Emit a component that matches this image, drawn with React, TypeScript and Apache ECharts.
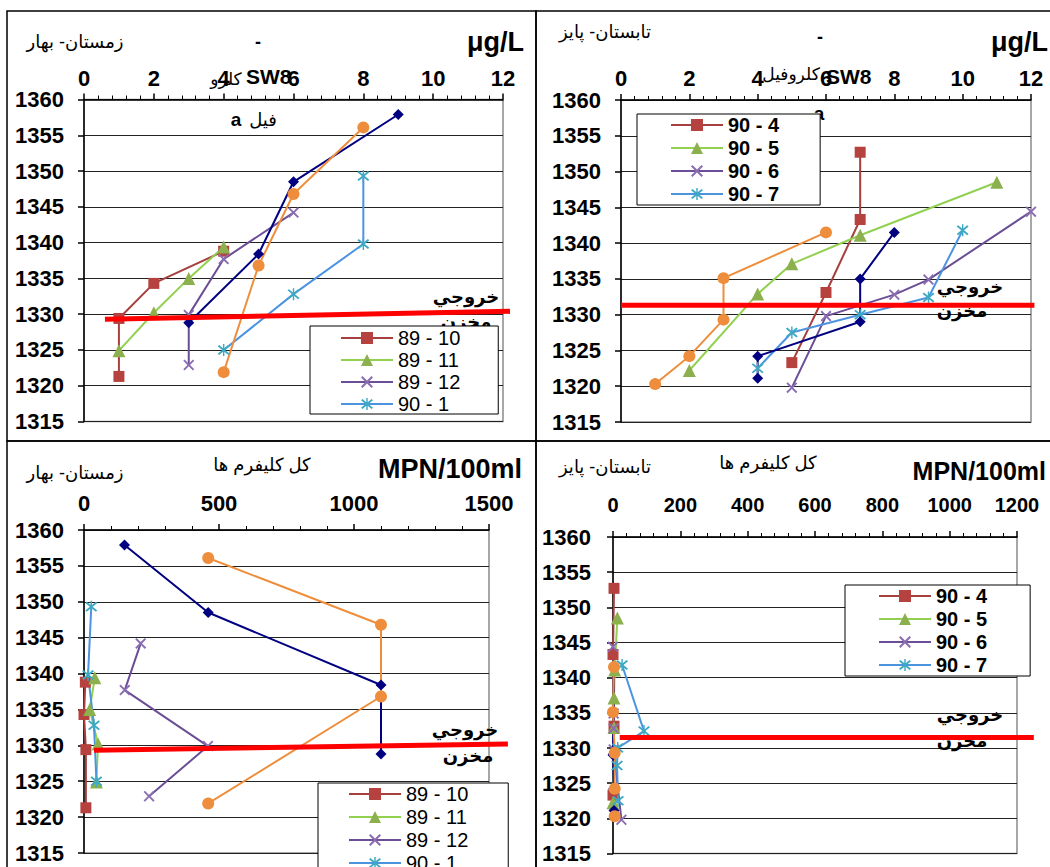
import React, { useEffect, useRef } from "react";
import * as echarts from "echarts";

// ---------- DATA ----------
// Winter–Spring (زمستان- بهار) sampling sets: elevations (m) and values
const namesWS = ["89 - 10", "89 - 11", "89 - 12", "90 - 1", "90 - 2", "90 - 3"];
const elevWS_89_10 = [1321.3, 1329.4, 1334.3, 1338.8];
const elevWS_89_11 = [1324.9, 1330.2, 1335.0, 1339.4];
const elevWS_89_12 = [1322.9, 1329.9, 1337.7, 1344.2];
const elevWS_90_1 = [1325.0, 1332.8, 1339.8, 1349.3];
const elevWS_90_2 = [1328.8, 1338.4, 1348.5, 1357.9];
const elevWS_90_3 = [1321.9, 1336.8, 1346.8, 1356.1];
// chlorophyll a (µg/L)
const chlWS_89_10 = [1, 1, 2, 4];
const chlWS_89_11 = [1, 2, 3, 4];
const chlWS_89_12 = [3, 3, 4, 6];
const chlWS_90_1 = [4, 6, 8, 8];
const chlWS_90_2 = [3, 5, 6, 9];
const chlWS_90_3 = [4, 5, 6, 8];
// total coliforms (MPN/100ml)
const colWS_89_10 = [7, 7, 0, 5];
const colWS_89_11 = [46, 52, 21, 40];
const colWS_89_12 = [241, 459, 151, 210];
const colWS_90_1 = [46, 37, 15, 27];
const colWS_90_2 = [1100, 1100, 460, 150];
const colWS_90_3 = [460, 1100, 1100, 460];

// Summer–Autumn (تابستان- پایز) sampling sets
const namesSA = ["90 - 4", "90 - 5", "90 - 6", "90 - 7", "90 - 8", "90 - 9"];
const elevSA_90_4 = [1323.3, 1333.1, 1343.3, 1352.7];
const elevSA_90_5 = [1322.2, 1332.9, 1337.1, 1341.1, 1348.5];
const elevSA_90_6 = [1319.8, 1329.8, 1332.8, 1334.9, 1344.4];
const elevSA_90_7 = [1322.5, 1327.5, 1330.0, 1332.4, 1341.8];
const elevSA_90_8 = [1321.1, 1324.2, 1329.0, 1335.0, 1341.5];
const elevSA_90_9 = [1320.3, 1324.2, 1329.3, 1335.1, 1341.5];
const chlSA_90_4 = [5, 6, 7, 7];
const chlSA_90_5 = [2, 4, 5, 7, 11];
const chlSA_90_6 = [5, 6, 8, 9, 12];
const chlSA_90_7 = [4, 5, 7, 9, 10];
const chlSA_90_8 = [4, 4, 7, 7, 8];
const chlSA_90_9 = [1, 2, 3, 3, 6];
const colSA_90_4 = [0, 3, 0, 3];
const colSA_90_5 = [0, 3, 3, 5, 13];
const colSA_90_6 = [25, 2, 2, 2, 0];
const colSA_90_7 = [15, 12, 14, 92, 27];
const colSA_90_8 = [3, 2, 0, 2, 3];
const colSA_90_9 = [5, 5, 5, 0, 3];

// reservoir outlet line (خروجي مخزن) end points
const outletChlWS_x = [0.6, 12.2];
const outletChlWS_y = [1329.3, 1330.4];
const outletChlSA_x = [0, 12.1];
const outletChlSA_y = [1331.3, 1331.3];
const outletColWS_x = [37, 1570];
const outletColWS_y = [1329.3, 1330.2];
const outletColSA_x = [20, 1250];
const outletColSA_y = [1331.5, 1331.5];

// axis ticks
const elevMin = 1315;
const elevMax = 1360;
const elevStep = 5;

// ---------- STYLES ----------
const FONT = "'Liberation Sans', Arial, 'DejaVu Sans', sans-serif";
const XPATH = "path://M0,1.2L1.2,0L5,3.8L8.8,0L10,1.2L6.2,5L10,8.8L8.8,10L5,6.2L1.2,10L0,8.8L3.8,5Z";
const STARPATH =
  "path://M0,1.2L1.2,0L5,3.8L8.8,0L10,1.2L6.2,5L10,8.8L8.8,10L5,6.2L1.2,10L0,8.8L3.8,5Z M4.4,-1L5.6,-1L5.6,11L4.4,11Z";

const styles = [
  { line: "#A5403E", mark: "#B5423F", symbol: "rect", size: 11 },
  { line: "#92D050", mark: "#8DB04F", symbol: "triangle", size: 13 },
  { line: "#6B4E95", mark: "#8A6CB2", symbol: XPATH, size: 11 },
  { line: "#4C94E0", mark: "#3FA9C4", symbol: STARPATH, size: 12 },
  { line: "#000080", mark: "#000080", symbol: "diamond", size: 11 },
  { line: "#EE8E3C", mark: "#EE8E3C", symbol: "circle", size: 12 },
];

function pairs(xs: number[], ys: number[]) {
  return xs.map((x, i) => [x, ys[i]]);
}

function lineSeries(name: string, xs: number[], ys: number[], si: number, gi: number) {
  const s = styles[si];
  return {
    type: "line",
    name,
    xAxisIndex: gi,
    yAxisIndex: gi,
    data: pairs(xs, ys),
    symbol: s.symbol,
    symbolSize: s.size,
    showSymbol: true,
    clip: false,
    lineStyle: { color: s.line, width: 2 },
    itemStyle: { color: s.mark },
    z: 2,
  };
}

function outletSeries(xs: number[], ys: number[], gi: number) {
  return {
    type: "custom",
    name: "outlet",
    xAxisIndex: gi,
    yAxisIndex: gi,
    data: [[xs[0], ys[0], xs[1], ys[1]]],
    encode: { x: [0, 2], y: [1, 3] },
    clip: false,
    silent: true,
    z: 3,
    renderItem: (_params: any, api: any) => {
      const p1 = api.coord([api.value(0), api.value(1)]);
      const p2 = api.coord([api.value(2), api.value(3)]);
      return {
        type: "line",
        shape: { x1: p1[0], y1: p1[1], x2: p2[0], y2: p2[1] },
        style: { stroke: "#FF0000", lineWidth: 5 },
      };
    },
  };
}

const plain = (v: number) => String(v);

function mkX(gi: number, min: number, max: number, interval: number, size: number, margin: number) {
  return {
    type: "value",
    gridIndex: gi,
    position: "top",
    min,
    max,
    interval,
    axisLine: { show: true, onZero: false, lineStyle: { color: "#000", width: 1.5 } },
    axisTick: { show: true, length: 6, lineStyle: { color: "#000", width: 1.5 } },
    minorTick: { show: true, splitNumber: 5, length: 4, lineStyle: { color: "#000", width: 1 } },
    splitLine: { show: false },
    axisLabel: { fontFamily: FONT, fontWeight: "bold", fontSize: size, color: "#000", margin, formatter: plain },
  };
}

function mkY(gi: number, margin: number) {
  return {
    type: "value",
    gridIndex: gi,
    min: elevMin,
    max: elevMax,
    interval: elevStep,
    axisLine: { show: true, onZero: false, lineStyle: { color: "#000", width: 1.5 } },
    axisTick: { show: true, length: 6, lineStyle: { color: "#000", width: 1.5 } },
    splitLine: { show: true, lineStyle: { color: "#222", width: 1 } },
    axisLabel: { fontFamily: FONT, fontWeight: "bold", fontSize: 22, color: "#000", margin, formatter: plain },
  };
}

function mkLegend(names: string[], left: number, top: number, bold: boolean, padding: number[], gap: number) {
  return {
    data: names.slice(0, 4),
    orient: "vertical",
    left,
    top,
    height: 140,
    padding,
    itemGap: gap,
    itemWidth: 52,
    itemHeight: 15,
    selectedMode: false,
    backgroundColor: "#fff",
    borderColor: "#000",
    borderWidth: 1,
    textStyle: {
      fontFamily: FONT,
      fontSize: 20,
      lineHeight: 20,
      fontWeight: bold ? "bold" : "normal",
      color: "#000",
    },
    z: 10,
  };
}

function txt(text: string, x: number, y: number, size: number, weight: string, align: string) {
  return {
    type: "text",
    x,
    y,
    z: 1,
    style: {
      text,
      fontSize: size,
      fontWeight: weight,
      fontFamily: FONT,
      fill: "#000",
      align,
      verticalAlign: "middle",
    },
  };
}

function frame(x: number, y: number, w: number, h: number) {
  return {
    type: "rect",
    shape: { x, y, width: w, height: h },
    style: { fill: "none", stroke: "#000", lineWidth: 1.5 },
    z: 0,
  };
}

export default function App() {
  const ref = useRef<HTMLDivElement>(null);

  useEffect(() => {
    document.body.style.margin = "0";
    if (!ref.current) return;
    const chart = echarts.init(ref.current, undefined, { renderer: "svg" });

    const gridBase = { show: true, borderColor: "#8a8a8a", borderWidth: 1.5, backgroundColor: "transparent", containLabel: false };

    const option: any = {
      animation: false,
      backgroundColor: "#fff",
      grid: [
        { ...gridBase, left: 84, top: 99.5, width: 419, height: 322 },
        { ...gridBase, left: 621, top: 100, width: 410, height: 322 },
        { ...gridBase, left: 84, top: 530, width: 405, height: 323 },
        { ...gridBase, left: 613, top: 537, width: 404, height: 316.5 },
      ],
      xAxis: [
        mkX(0, 0, 12, 2, 22, 10),
        mkX(1, 0, 12, 2, 22, 11),
        mkX(2, 0, 1500, 500, 22, 16),
        mkX(3, 0, 1200, 200, 20, 22),
      ],
      yAxis: [mkY(0, 20), mkY(1, 20), mkY(2, 20), mkY(3, 22)],
      legend: [
        mkLegend(namesWS, 310, 326, false, [2, 38, 0, 30], 2),
        mkLegend(namesSA, 637, 114, true, [1, 41, 1, 33], 3),
        mkLegend(namesWS, 318, 783, false, [1, 40, 1, 30], 3),
        mkLegend(namesSA, 845, 585, true, [1, 43, 1, 33], 3),
      ],
      series: [
        lineSeries(namesWS[0], chlWS_89_10, elevWS_89_10, 0, 0),
        lineSeries(namesWS[1], chlWS_89_11, elevWS_89_11, 1, 0),
        lineSeries(namesWS[2], chlWS_89_12, elevWS_89_12, 2, 0),
        lineSeries(namesWS[3], chlWS_90_1, elevWS_90_1, 3, 0),
        lineSeries(namesWS[4], chlWS_90_2, elevWS_90_2, 4, 0),
        lineSeries(namesWS[5], chlWS_90_3, elevWS_90_3, 5, 0),
        outletSeries(outletChlWS_x, outletChlWS_y, 0),

        lineSeries(namesSA[0], chlSA_90_4, elevSA_90_4, 0, 1),
        lineSeries(namesSA[1], chlSA_90_5, elevSA_90_5, 1, 1),
        lineSeries(namesSA[2], chlSA_90_6, elevSA_90_6, 2, 1),
        lineSeries(namesSA[3], chlSA_90_7, elevSA_90_7, 3, 1),
        lineSeries(namesSA[4], chlSA_90_8, elevSA_90_8, 4, 1),
        lineSeries(namesSA[5], chlSA_90_9, elevSA_90_9, 5, 1),
        outletSeries(outletChlSA_x, outletChlSA_y, 1),

        lineSeries(namesWS[0], colWS_89_10, elevWS_89_10, 0, 2),
        lineSeries(namesWS[1], colWS_89_11, elevWS_89_11, 1, 2),
        lineSeries(namesWS[2], colWS_89_12, elevWS_89_12, 2, 2),
        lineSeries(namesWS[3], colWS_90_1, elevWS_90_1, 3, 2),
        lineSeries(namesWS[4], colWS_90_2, elevWS_90_2, 4, 2),
        lineSeries(namesWS[5], colWS_90_3, elevWS_90_3, 5, 2),
        outletSeries(outletColWS_x, outletColWS_y, 2),

        lineSeries(namesSA[0], colSA_90_4, elevSA_90_4, 0, 3),
        lineSeries(namesSA[1], colSA_90_5, elevSA_90_5, 1, 3),
        lineSeries(namesSA[2], colSA_90_6, elevSA_90_6, 2, 3),
        lineSeries(namesSA[3], colSA_90_7, elevSA_90_7, 3, 3),
        lineSeries(namesSA[4], colSA_90_8, elevSA_90_8, 4, 3),
        lineSeries(namesSA[5], colSA_90_9, elevSA_90_9, 5, 3),
        outletSeries(outletColSA_x, outletColSA_y, 3),
      ],
      graphic: [
        frame(7, 11, 529, 430),
        frame(536, 11, 520, 430),
        frame(7, 441, 529, 430),
        frame(536, 441, 520, 430),

        // top-left
        txt("زمستان- بهار", 75, 42, 18, "normal", "center"),
        txt("-", 258, 42, 18, "bold", "center"),
        txt("μg/L", 524, 42, 27, "bold", "right"),
        txt("کلرو", 226, 79, 17, "normal", "center"),
        txt("SW8", 246, 76, 21, "bold", "left"),
        txt("a", 236, 119, 19, "bold", "center"),
        txt("فیل", 263, 120, 18, "normal", "center"),
        txt("خروجي", 466, 297, 18, "bold", "center"),
        txt("مخزن", 466, 322, 18, "bold", "center"),

        // top-right
        txt("تابستان- پایز", 605, 32, 18, "normal", "center"),
        txt("-", 820, 37, 18, "bold", "center"),
        txt("μg/L", 1048, 42, 27, "bold", "right"),
        txt("کلروفیل", 791, 74, 17, "normal", "center"),
        txt("SW8", 826, 76, 21, "bold", "left"),
        txt("a", 819, 113, 19, "bold", "center"),
        txt("خروجي", 970, 287, 18, "bold", "center"),
        txt("مخزن", 962, 311, 18, "bold", "center"),

        // bottom-left
        txt("زمستان- بهار", 75, 473, 18, "normal", "center"),
        txt("کل کلیفرم ها", 262, 465, 18, "normal", "center"),
        txt("MPN/100ml", 522, 469, 27, "bold", "right"),
        txt("خروجي", 465, 730, 18, "bold", "center"),
        txt("مخزن", 468, 756, 18, "bold", "center"),

        // bottom-right
        txt("تابستان- پایز", 605, 467, 18, "normal", "center"),
        txt("کل کلیفرم ها", 768, 463, 18, "normal", "center"),
        txt("MPN/100ml", 1046, 471, 25, "bold", "right"),
        txt("خروجي", 970, 715, 18, "bold", "center"),
        txt("مخزن", 962, 741, 18, "bold", "center"),
      ],
    };

    chart.setOption(option);
    return () => chart.dispose();
  }, []);

  return <div ref={ref} style={{ width: 1050, height: 867 }} />;
}
